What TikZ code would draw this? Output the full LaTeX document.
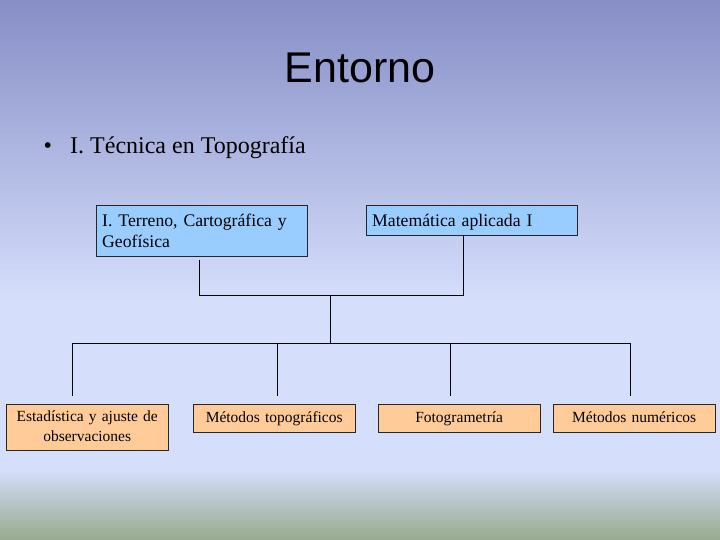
\documentclass[tikz,border=0pt]{standalone}
\usepackage{fontspec}
\setmainfont{Liberation Serif}
\newfontfamily\titlefont{Liberation Sans}
\usepackage{tikz}
\usetikzlibrary{positioning,calc}
\definecolor{bgtop}{RGB}{134,142,198}
\definecolor{bgmid}{RGB}{213,222,251}
\definecolor{bgbot}{RGB}{150,170,140}
\definecolor{azul}{RGB}{153,204,255}
\definecolor{naranja}{RGB}{255,204,153}
\begin{document}
\begin{tikzpicture}[x=1pt,y=-1pt,
   bluebox/.style={draw=black!85,fill=azul,anchor=north west,inner xsep=6pt,inner ysep=1pt,
      font=\fontsize{17.7}{21}\selectfont,align=left,
      execute at begin node={\rule{0pt}{18.7pt}},execute at end node=\strut},
   orangebox/.style={draw=black!85,fill=naranja,anchor=north west,inner xsep=3pt,inner ysep=1pt,
      minimum width=162pt,text width=156pt,font=\fontsize{15.5}{20}\selectfont,align=center,
      execute at begin node=\strut,execute at end node=\strut},
   link/.style={black,line width=1pt}]
   \useasboundingbox (0,0) rectangle (720,540);
   \fill[top color=bgtop,bottom color=bgmid] (0,0) rectangle (720,300);
   \fill[bgmid] (0,299) rectangle (720,471);
   \fill[top color=bgmid,bottom color=bgbot] (0,470) rectangle (720,540);
   \node (titulo) at (360,68) {\titlefont\fontsize{43}{50}\selectfont Entorno};
   \node (punto) [anchor=base west,font=\fontsize{24}{28}\selectfont] at (40,154) {\textbullet};
   \node (tema) [anchor=base west,font=\fontsize{24}{28}\selectfont,inner sep=0pt] at (70,154) {I. Técnica en Topografía};
   \path (96,205) node (terreno) [bluebox,minimum width=211pt,text width=199pt,minimum height=51pt]
            {I. Terreno, Cartográfica y\\Geofísica}
         (366,205) node (mate) [bluebox,minimum width=211pt,text width=199pt,minimum height=30pt]
            {Matemática aplicada I};
   \path (6,404) node (estad) [orangebox,minimum height=46pt] {Estadística y ajuste de\\observaciones}
         (193,404) node (metodos) [orangebox,minimum height=28pt] {Métodos topográficos}
         (378,404) node (foto) [orangebox,minimum height=28pt] {Fotogrametría}
         (553,404) node (numer) [orangebox,minimum height=28pt] {Métodos numéricos};
   \coordinate (union) at (330.5,295.5);
   \coordinate (bus) at (330.5,343.5);
   \draw[link] ([xshift=-2pt,yshift=-4pt]terreno.south) |- (union) -| ([xshift=-8pt]mate.south);
   \draw[link] (union) -- (bus);
   \draw[link] ([xshift=-14.5pt,yshift=8pt]estad.north) |- (bus) -| ([xshift=-3.5pt,yshift=8pt]numer.north);
   \draw[link] ([xshift=3pt,yshift=8pt]metodos.north) |- (bus);
   \draw[link] ([xshift=-8.5pt,yshift=8pt]foto.north) |- (bus);
\end{tikzpicture}
\end{document}
